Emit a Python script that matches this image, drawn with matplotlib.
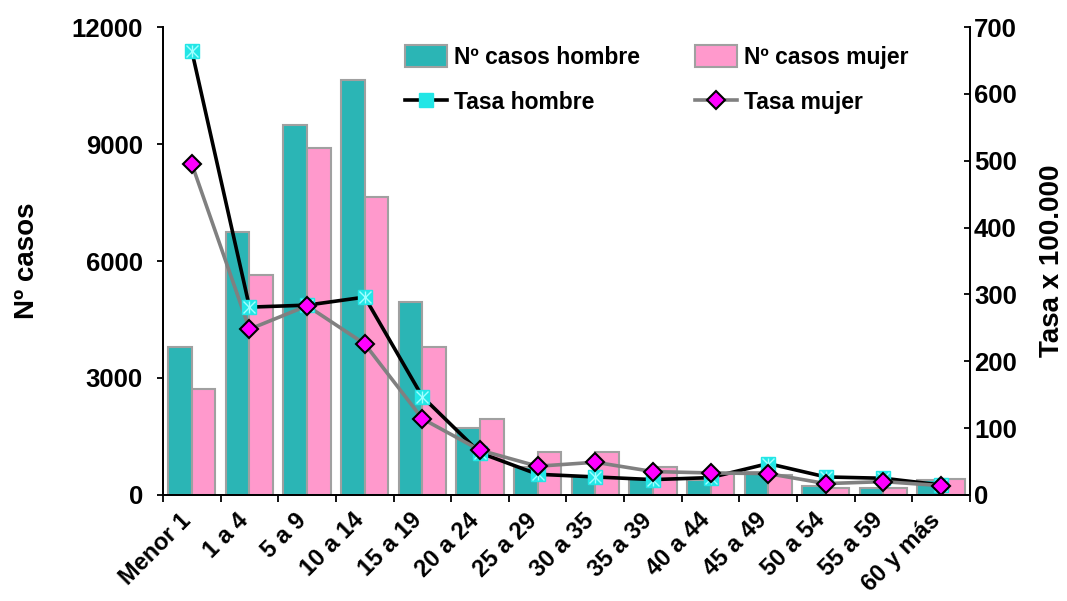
import matplotlib
matplotlib.use("Agg")
import matplotlib.pyplot as plt
import numpy as np
from matplotlib.lines import Line2D
from matplotlib.patches import Patch

categories = ["Menor 1", "1 a 4", "5 a 9", "10 a 14", "15 a 19", "20 a 24", "25 a 29",
              "30 a 35", "35 a 39", "40 a 44", "45 a 49", "50 a 54", "55 a 59", "60 y más"]
casos_hombre = [3800, 6750, 9500, 10650, 4950, 1730, 720, 480, 400, 385, 600, 240, 190, 385]
casos_mujer = [2720, 5650, 8900, 7650, 3800, 1950, 1100, 1100, 730, 560, 510, 190, 190, 420]
tasa_hombre = [664, 281, 284, 296, 147, 63, 31, 27, 23, 26, 47, 27, 25, 15]
tasa_mujer = [495, 248, 283, 226, 114, 67, 43, 49, 35, 33, 32, 17, 20, 14]
left_ticks = [0, 3000, 6000, 9000, 12000]
right_ticks = [0, 100, 200, 300, 400, 500, 600, 700]

plt.rcParams['font.family'] = ['Liberation Sans', 'DejaVu Sans']
plt.rcParams['font.weight'] = 'bold'

fig = plt.figure(figsize=(10.67, 6.01), dpi=100)
ax = fig.add_axes([0.1528, 0.1764, 0.909 - 0.1528, 0.955 - 0.1764])
ax2 = ax.twinx()

x = np.arange(len(categories))
bw = 0.41
teal = '#2BB5B5'
pink = '#FF99CC'
edge = '#A0A0A0'
ax.bar(x - bw / 2, casos_hombre, bw, color=teal, edgecolor=edge, linewidth=1.5, zorder=2)
ax.bar(x + bw / 2, casos_mujer, bw, color=pink, edgecolor=edge, linewidth=1.5, zorder=2)

ax.set_xlim(-0.5, len(categories) - 0.5)
ax.set_ylim(0, 12000)
ax.set_yticks(left_ticks)
ax.set_yticklabels([str(t) for t in left_ticks], fontsize=18.5, fontweight='bold')
# label anchors sit slightly left of the category centre, as in the reference
ax.set_xticks(x - 0.22)
ax.set_xticklabels(categories, rotation=45, ha='right', va='top', rotation_mode='anchor',
                   fontsize=17, fontweight='bold')
ax.tick_params(axis='x', which='major', length=0, pad=10)
ax.set_xticks(np.arange(-0.5, len(categories), 1.0), minor=True)
ax.tick_params(axis='x', which='minor', length=5, width=1.3, direction='out')
ax.tick_params(axis='y', length=4.5, width=1.3, direction='out', pad=10)
ax.set_ylabel('Nº casos', fontsize=20, fontweight='bold', labelpad=23)

ax2.set_ylim(0, 700)
ax2.set_yticks(right_ticks)
ax2.set_yticklabels([str(t) for t in right_ticks], fontsize=18.5, fontweight='bold')
ax2.tick_params(axis='y', length=4.5, width=1.3, direction='in', pad=3)
ax2.set_ylabel('Tasa x 100.000', fontsize=20, fontweight='bold', labelpad=16)

for a in (ax, ax2):
    a.spines['top'].set_visible(False)
    for s in ('left', 'right', 'bottom'):
        a.spines[s].set_linewidth(1.3)

cyan = '#22E6E6'
ax2.plot(x, tasa_hombre, color='black', linewidth=2.6, zorder=3)
ax2.plot(x, tasa_mujer, color='#808080', linewidth=2.6, zorder=3)
ax2.plot(x, tasa_hombre, linestyle='none', marker='s', markersize=10.5, markerfacecolor=cyan,
         markeredgecolor=cyan, zorder=4)
ax2.plot(x, tasa_hombre, linestyle='none', marker='x', markersize=8, markeredgecolor='#9FFFFF',
         markeredgewidth=1.0, zorder=4)
ax2.plot(x, tasa_hombre, linestyle='none', marker='|', markersize=9, markeredgecolor='#9FFFFF',
         markeredgewidth=1.0, zorder=4)
ax2.plot(x, tasa_mujer, linestyle='none', marker='D', markersize=9.5, markerfacecolor='#FF00FF',
         markeredgecolor='black', markeredgewidth=1.5, zorder=5)

h_bar_h = Patch(facecolor=teal, edgecolor=edge, linewidth=1.5)
h_bar_m = Patch(facecolor=pink, edgecolor=edge, linewidth=1.5)
h_line_h = Line2D([], [], color='black', linewidth=2.6, marker='s', markersize=10.5,
                  markerfacecolor=cyan, markeredgecolor=cyan)
h_line_m = Line2D([], [], color='#808080', linewidth=2.6, marker='D', markersize=9.5,
                  markerfacecolor='#FF00FF', markeredgecolor='black', markeredgewidth=1.5)
fig.legend([h_bar_h, h_line_h, h_bar_m, h_line_m],
           ['Nº casos hombre', 'Tasa hombre', 'Nº casos mujer', 'Tasa mujer'],
           ncol=2, loc='upper left', bbox_to_anchor=(389 / 1067, 1 - 29 / 601),
           frameon=False, prop={'size': 16.5, 'weight': 'bold'}, handlelength=1.83,
           handletextpad=0.3, columnspacing=2.4, labelspacing=0.95, handleheight=1.1,
           borderpad=0.2)

fig.savefig('out.png', dpi=100)
